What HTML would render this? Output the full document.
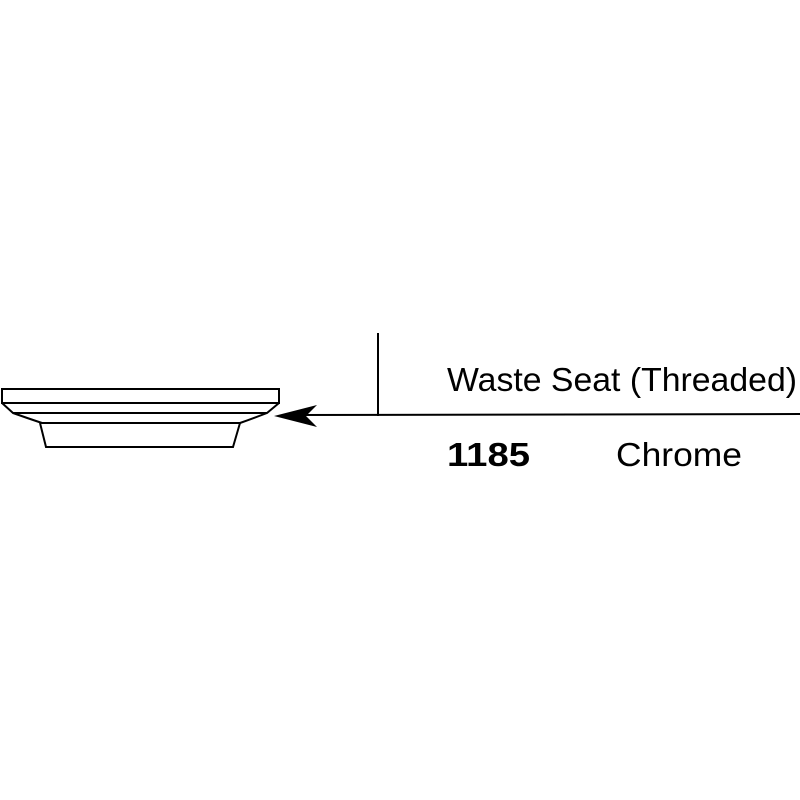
<!DOCTYPE html>
<html><head><style>body{margin:0;background:#fff}svg{display:block}</style></head><body>
<svg width="800" height="800" viewBox="0 0 800 800" xmlns="http://www.w3.org/2000/svg">
<g fill="none" stroke="#000" stroke-width="2">
<rect x="2" y="389" width="277" height="14"/>
<path d="M2 403 L13 413 Q27 418 42 423 L240 423 Q254 418 267 413 L279 403"/>
<line x1="13" y1="413" x2="267" y2="413"/>
<path d="M40 423 L46 447 L233 447 L240 423"/>
<line x1="295" y1="415" x2="800" y2="414"/>
<line x1="378" y1="333" x2="378" y2="416"/>
</g>
<path d="M274 416 L317 405 L306 416 L317 427 Z" fill="#000"/>
<g font-family="Liberation Sans, sans-serif" fill="#000">
<text x="447" y="391" font-size="33" textLength="350" lengthAdjust="spacingAndGlyphs">Waste Seat (Threaded)</text>
<text x="447" y="466" font-size="33" font-weight="bold" textLength="83" lengthAdjust="spacingAndGlyphs">1185</text>
<text x="616" y="466" font-size="33" textLength="126" lengthAdjust="spacingAndGlyphs">Chrome</text>
</g>
</svg>
</body></html>
